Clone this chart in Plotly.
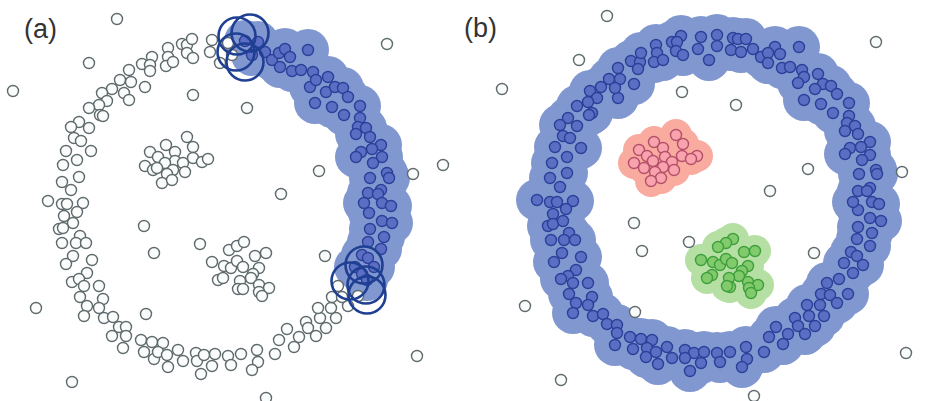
import plotly.graph_objects as go

# ---------------- panel (a): one cluster being grown ----------------
a_noise_x = [117, 89, 13, 193, 247, 281, 387, 319, 413, 443, 325, 417, 36, 144, 146, 72, 266, 154]
a_noise_y = [19, 63, 91, 95, 108, 194, 44, 171, 174, 165, 256, 356, 308, 226, 314, 382, 398, 253]

# unvisited ring points
a_ring_x = [152, 142, 150, 150, 168, 168, 166, 173, 182, 187, 192, 187, 193, 212, 210, 220, 228, 232,
            129, 120, 131, 112, 124, 129, 145, 102, 107, 99, 89, 100, 103, 79, 71, 89, 74, 81, 66, 91,
            77, 63, 79, 62, 71, 48, 62, 67, 83, 77, 64, 73, 59, 63, 80, 62, 76, 86, 73, 92, 66, 87, 72,
            79, 84, 99, 80, 103, 87, 99, 84, 104, 113, 119, 126, 112, 126, 123, 141, 152, 144, 154,
            163, 158, 167, 168, 178, 183, 196, 197, 201, 204, 215, 212, 228, 231, 241, 257, 258, 252,
            275, 279, 294, 287, 299, 306, 308, 316, 326, 320, 336, 318, 331, 348, 332, 342, 358, 338]
a_ring_y = [57, 64, 65, 71, 48, 57, 66, 62, 44, 45, 39, 53, 58, 40, 52, 63, 43, 55,
            70, 80, 82, 89, 93, 100, 87, 93, 101, 105, 108, 115, 116, 122, 127, 128, 138, 141, 151, 151,
            160, 165, 177, 182, 190, 201, 204, 204, 203, 212, 216, 223, 229, 228, 236, 243, 243, 243, 256,
            260, 264, 273, 282, 279, 286, 286, 297, 299, 306, 308, 316, 318, 317, 327, 327, 336, 336, 348,
            340, 342, 352, 359, 343, 352, 355, 367, 350, 361, 353, 361, 374, 355, 354, 366, 356, 365, 354,
            350, 362, 370, 354, 340, 347, 329, 337, 322, 328, 336, 328, 318, 318, 308, 308, 306, 297, 297,
            296, 286]

# unvisited inner blobs
a_inner_x = [150, 145, 153, 187, 166, 193, 175, 158, 175, 193, 202, 208, 165, 183, 157, 173, 185, 167,
             162, 172,
             200, 229, 237, 244, 255, 266, 212, 224, 231, 237, 243, 259, 253, 251, 218, 223, 240, 238,
             243, 259, 269, 259, 262]
a_inner_y = [152, 166, 170, 137, 145, 147, 152, 157, 161, 158, 162, 159, 163, 163, 168, 170, 172, 174,
             183, 180,
             244, 250, 246, 242, 256, 253, 262, 266, 268, 261, 267, 268, 274, 278, 280, 278, 281, 289,
             289, 285, 288, 292, 296]

# points already assigned to the growing cluster
a_core_x = [245, 258, 252, 265, 272, 279, 285, 290, 280, 292, 301, 308, 310, 313, 316, 328, 326, 335,
            343, 348, 315, 332, 344, 360, 360, 358, 366, 356, 370, 381, 372, 361, 356, 382, 373, 387,
            389, 370, 381, 368, 378, 364, 382, 391, 369, 382, 392, 370, 384, 368, 381, 362, 368, 374,
            355, 362, 367]
a_core_y = [41, 42, 55, 52, 60, 53, 49, 57, 67, 71, 70, 50, 87, 72, 80, 77, 92, 87,
            88, 97, 103, 107, 115, 106, 118, 127, 128, 134, 137, 145, 149, 152, 157, 157, 163, 173,
            178, 178, 190, 193, 194, 203, 203, 206, 213, 221, 223, 229, 237, 242, 249, 255, 258, 267,
            267, 274, 280]

# neighbourhoods being expanded at both ends of the arc
a_front_x = [237, 250, 236, 245, 364, 350, 366, 367]
a_front_y = [36, 33, 52, 62, 265, 281, 285, 295]

# ---------------- panel (b): final clustering ----------------
b_noise_x = [607, 579, 502, 682, 736, 770, 876, 808, 902, 634, 642, 689, 635, 754, 814, 906, 525, 561]
b_noise_y = [16, 60, 89, 92, 105, 191, 42, 169, 172, 223, 251, 242, 312, 396, 253, 353, 306, 380]

b_ring_x = [609, 601, 590, 597, 588, 592, 589, 577, 568, 560, 577, 563, 570, 555, 581, 567, 552, 567,
            550, 560,
            537, 550, 557, 573, 566, 553, 548, 553, 563, 569, 551, 564, 575, 562, 581, 554, 576, 568,
            561, 573, 588, 592, 569, 576, 588, 573, 593, 603, 607,
            617, 617, 615, 630, 641, 652, 633, 647, 656, 646, 658, 667, 672, 685, 694, 685, 704, 701,
            690, 717, 720, 730, 746, 747, 742, 769, 764,
            776, 783, 788, 795, 798, 805, 807, 809, 815, 820, 824, 821, 830, 827, 837, 839, 848, 844,
            853, 851, 857, 863, 857, 870, 858, 872, 870, 881, 858, 853, 872, 879,
            775, 780, 799, 782, 790, 802, 804, 798, 818, 823, 831, 815, 837, 804, 821, 849, 833, 849,
            847, 855, 845, 858, 870, 850, 861, 845, 870, 862, 876, 877, 859, 870, 858, 867,
            618, 620, 618, 615, 634, 631, 640, 641, 638, 656, 657, 654, 663, 672, 681, 677, 676, 683,
            701, 698, 709, 717, 717, 733, 738, 746, 731, 741, 753, 761, 768, 768]
b_ring_y = [79, 87, 91, 98, 102, 113, 115, 106, 118, 125, 126, 136, 138, 147, 148, 157, 163, 173,
            178, 187,
            200, 202, 202, 201, 209, 214, 226, 224, 221, 233, 240, 240, 240, 253, 257, 262, 270, 276,
            279, 283, 283, 297, 294, 303, 305, 313, 316, 314, 324,
            325, 333, 345, 337, 339, 340, 349, 348, 352, 357, 364, 347, 358, 350, 353, 358, 352, 363,
            371, 353, 362, 352, 347, 359, 367, 337, 352,
            327, 344, 334, 318, 326, 334, 305, 316, 326, 305, 316, 294, 295, 283, 303, 279, 294, 263,
            273, 252, 256, 265, 239, 246, 227, 233, 218, 221, 210, 202, 202, 204,
            47, 54, 47, 68, 67, 70, 77, 83, 74, 84, 86, 89, 94, 100, 104, 103, 113, 116,
            123, 126, 131, 134, 142, 148, 147, 154, 155, 160, 170, 174, 174, 188, 191, 191,
            68, 79, 98, 88, 84, 61, 62, 53, 69, 45, 53, 62, 60, 42, 36, 42, 51, 55,
            37, 49, 60, 35, 46, 38, 39, 39, 50, 52, 49, 57, 53, 63]

b_red_x = [676, 654, 683, 639, 663, 647, 665, 682, 697, 691, 634, 653, 644, 672, 663, 674, 655, 661, 651]
b_red_y = [135, 142, 144, 150, 148, 156, 157, 156, 156, 159, 163, 161, 168, 162, 167, 170, 172, 178, 181]

b_green_x = [733, 726, 718, 744, 755, 701, 713, 720, 726, 732, 748, 742, 739, 712, 707, 729, 730, 727,
             748, 758, 749, 751]
b_green_y = [239, 243, 247, 252, 251, 260, 262, 265, 259, 263, 266, 271, 276, 275, 278, 278, 287, 286,
             282, 285, 288, 293]

# ---------------- styling ----------------
WHITE_FILL, GREY_EDGE = "#fbfdfd", "#5f6a6c"
BLUE_HALO, BLUE_FILL, BLUE_EDGE = "#8197d0", "#5a6fc3", "#2c3f99"
RED_HALO, RED_FILL, RED_EDGE = "#f9ab9f", "#f8a3ad", "#b5506a"
GREEN_HALO, GREEN_FILL, GREEN_EDGE = "#b5dfa3", "#82cb6c", "#3f9f3c"
FRONT_EDGE = "#1f3f93"

POINT_SIZE = 11
HALO_BLUE = 42
HALO_SMALL = 32

fig = go.Figure()


def halo(x, y, color, size, xa, ya):
    fig.add_trace(go.Scatter(x=x, y=y, mode="markers", xaxis=xa, yaxis=ya, hoverinfo="skip",
                             marker=dict(size=size, color=color, line=dict(width=0)),
                             showlegend=False))


def dots(x, y, fill, edge, xa, ya):
    fig.add_trace(go.Scatter(x=x, y=y, mode="markers", xaxis=xa, yaxis=ya,
                             marker=dict(size=POINT_SIZE, color=fill, line=dict(width=1.4, color=edge)),
                             showlegend=False))


# panel (a)
halo(a_core_x, a_core_y, BLUE_HALO, HALO_BLUE, "x", "y")
dots(a_ring_x + a_inner_x + a_noise_x, a_ring_y + a_inner_y + a_noise_y, WHITE_FILL, GREY_EDGE, "x", "y")
dots(a_core_x, a_core_y, BLUE_FILL, BLUE_EDGE, "x", "y")
fig.add_trace(go.Scatter(x=a_front_x, y=a_front_y, mode="markers", xaxis="x", yaxis="y",
                         marker=dict(symbol="circle-open", size=37, color=FRONT_EDGE,
                                     line=dict(width=2.6)),
                         showlegend=False))

# panel (b)
halo(b_ring_x, b_ring_y, BLUE_HALO, HALO_BLUE, "x2", "y2")
halo(b_red_x, b_red_y, RED_HALO, HALO_SMALL, "x2", "y2")
halo(b_green_x, b_green_y, GREEN_HALO, HALO_SMALL, "x2", "y2")
dots(b_noise_x, b_noise_y, WHITE_FILL, GREY_EDGE, "x2", "y2")
dots(b_ring_x, b_ring_y, BLUE_FILL, BLUE_EDGE, "x2", "y2")
dots(b_red_x, b_red_y, RED_FILL, RED_EDGE, "x2", "y2")
dots(b_green_x, b_green_y, GREEN_FILL, GREEN_EDGE, "x2", "y2")

axis_common = dict(visible=False, showgrid=False, zeroline=False, fixedrange=True)
fig.update_layout(
    width=926, height=401,
    margin=dict(l=0, r=0, t=0, b=0),
    paper_bgcolor="white", plot_bgcolor="white",
    xaxis=dict(domain=[0, 0.5], range=[0, 463], **axis_common),
    yaxis=dict(domain=[0, 1], range=[401, 0], anchor="x", **axis_common),
    xaxis2=dict(domain=[0.5, 1], range=[463, 926], anchor="y2", **axis_common),
    yaxis2=dict(domain=[0, 1], range=[401, 0], anchor="x2", **axis_common),
    annotations=[
        dict(text="(a)", x=40, y=29, xref="x", yref="y", showarrow=False,
             font=dict(family="Liberation Sans, Arial, sans-serif", size=27, color="#333333")),
        dict(text="(b)", x=480, y=28, xref="x2", yref="y2", showarrow=False,
             font=dict(family="Liberation Sans, Arial, sans-serif", size=27, color="#333333")),
    ],
)

fig.write_html("out.html")
